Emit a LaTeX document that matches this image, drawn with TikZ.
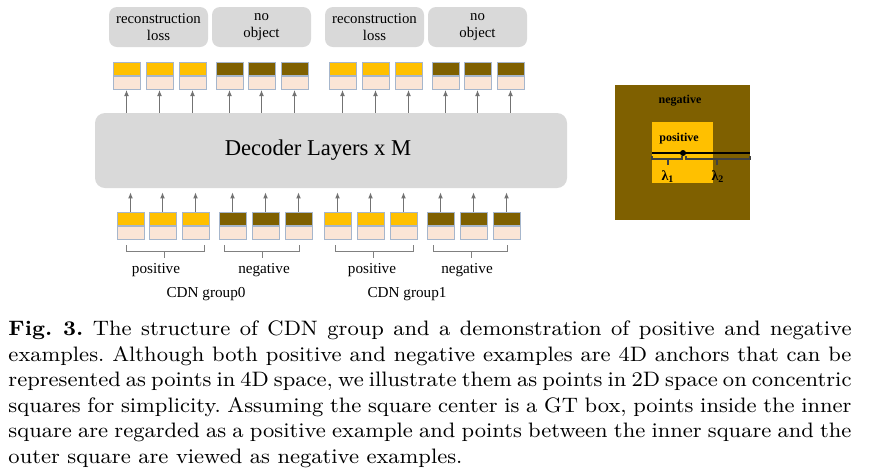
\documentclass[tikz,border=0pt]{standalone}
\usepackage{fontspec}
\newfontfamily\tnr{Liberation Serif}
\usepackage{tikz}
\usetikzlibrary{arrows.meta, positioning}

\definecolor{gold}{HTML}{FFC000}
\definecolor{olive}{HTML}{7F6000}
\definecolor{peach}{HTML}{FBE5D6}
\definecolor{tokenedge}{HTML}{A6B6CC}
\definecolor{boxgray}{HTML}{D9D9D9}

\begin{document}
\begin{tikzpicture}[
      x=0.5pt, y=-0.5pt,
      every node/.style={font=\tnr},
      head/.style={draw=tokenedge, line width=0.5pt, minimum width=13.5pt, minimum height=6.5pt, inner sep=0pt},
      body/.style={head, fill=peach},
      lossbox/.style={fill=boxgray, rounded corners=4pt, minimum width=49.5pt, minimum height=20pt, inner sep=0pt, align=center, font=\tnr\fontsize{7.4}{8.6}\selectfont},
      up/.style={-{Latex[length=3pt,width=2.4pt]}, draw=black!55, line width=0.45pt},
      brace/.style={draw=black!50, line width=0.5pt},
      lbl/.style={anchor=base, inner sep=0pt, font=\tnr\fontsize{7.6}{9}\selectfont},
      sqlbl/.style={anchor=base, inner sep=0pt, font=\tnr\bfseries\fontsize{6}{7}\selectfont}
    ]
      \useasboundingbox (0,0) rectangle (871,473);

      % heads of the loss
      \node[lossbox] (rec0) at (158.5,27) {reconstruction\\loss};
      \node[lossbox] (noobj0) at (261.5,27) {no\\object};
      \node[lossbox] (rec1) at (374.5,27) {reconstruction\\loss};
      \node[lossbox] (noobj1) at (477.5,27) {no\\object};

      % decoder
      \node[fill=boxgray, rounded corners=5pt, minimum width=236pt, minimum height=37.5pt] (dec) at (331,150.5) {};
      \node[font=\tnr\fontsize{11.3}{13}\selectfont, xshift=-6.5pt] (dectxt) at (dec.center) {Decoder Layers x M};

      % output queries
      \foreach \x/\c [count=\i] in {126.5/gold,159.5/gold,192.5/gold,229.5/olive,261.5/olive,294.5/olive,
                                     342.5/gold,375.5/gold,408.5/gold,445.5/olive,477.5/olive,510.5/olive}{
        \node[head, fill=\c] (th\i) at (\x,69) {};
        \node[body, below=0pt of th\i] (tb\i) {};
        \draw[up] (dec.north -| tb\i) -- (tb\i);
      }

      % input queries
      \foreach \x/\c [count=\i] in {130.5/gold,162.5/gold,195.5/gold,232.5/olive,265.5/olive,298.5/olive,
                                     337.5/gold,370.5/gold,403.5/gold,440.5/olive,473.5/olive,506.5/olive}{
        \node[head, fill=\c] (bh\i) at (\x,218.5) {};
        \node[body, below=0pt of bh\i] (bb\i) {};
        \draw[up, shorten >=2pt] (bh\i) -- (bh\i |- dec.south);
      }

      % groups
      \node[lbl] (pos0) at (156,273) {positive};
      \node[lbl] (neg0) at (264,273) {negative};
      \node[lbl] (pos1) at (372,273) {positive};
      \node[lbl] (neg1) at (467,273) {negative};
      \node[lbl] (grp0) at (206,297) {CDN group0};
      \node[lbl] (grp1) at (407,297) {CDN group1};
      \draw[brace] (126,245) |- (204,251) -- (204,245) (164,251) -- (164,258);
      \draw[brace] (224,245) |- (299,251) -- (299,245) (262,251) -- (262,258);
      \draw[brace] (335,245) |- (413,251) -- (413,245) (373,251) -- (373,258);
      \draw[brace] (433,245) |- (507,251) -- (507,245) (471,251) -- (471,258);

      % concentric squares
      \fill[olive] (615,85) rectangle (750,220);
      \fill[gold] (652,122) rectangle (713,183);
      \node[sqlbl] (negsq) at (680,103) {negative};
      \node[sqlbl] (possq) at (679,141) {positive};
      \draw[line width=1.4pt] (652,153) -- (750,153);
      \fill (683,153) circle[radius=1.5pt];
      \draw[black!75, line width=0.6pt] (652,156) -- (652,159) -- (682,159) -- (682,156) (668,159) -- (668,165);
      \draw[black!75, line width=0.6pt] (686,156) -- (686,159) -- (750,159) -- (750,156) (717,159) -- (717,165);
      \node[sqlbl, font=\tnr\bfseries\fontsize{7}{8}\selectfont] (lam1) at (668,180) {λ\textsubscript{1}};
      \node[sqlbl, font=\tnr\bfseries\fontsize{7}{8}\selectfont] (lam2) at (718,180) {λ\textsubscript{2}};

      % caption
      \begin{scope}[shift={(8,320.5)}, xscale=1.2186, yscale=1.16]
        \node[transform shape, anchor=north west, inner sep=0pt, text width=345.9pt, align=justify,
              font=\rmfamily\fontsize{9}{11}\selectfont\frenchspacing] (cap) at (0,0)
          {\textbf{Fig.~3.} The structure of CDN group and a demonstration of positive and negative\linebreak
           examples. Although both positive and negative examples are 4D anchors that can be\linebreak
           represented as points in 4D space, we illustrate them as points in 2D space on concentric\linebreak
           squares for simplicity. Assuming the square center is a GT box, points inside the inner\linebreak
           square are regarded as a positive example and points between the inner square and the\linebreak
           outer square are viewed as negative examples.};
      \end{scope}
    \end{tikzpicture}
\end{document}
